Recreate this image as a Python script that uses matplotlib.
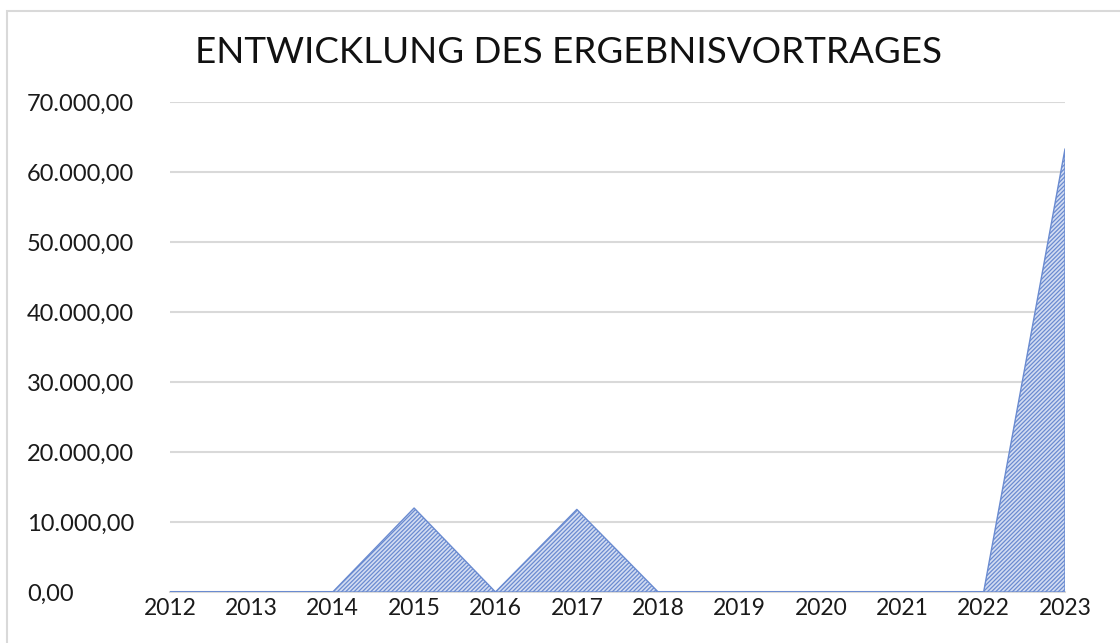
import matplotlib.pyplot as plt
from matplotlib.patches import Rectangle

# Daten
jahre = ['2012', '2013', '2014', '2015', '2016', '2017', '2018', '2019', '2020', '2021', '2022', '2023']
ergebnisvortrag = [0, 0, 0, 12000, 0, 11800, 0, 0, 0, 0, 0, 63300]
y_ticks = [0, 10000, 20000, 30000, 40000, 50000, 60000, 70000]

def de_format(v):
    s = '{:,.2f}'.format(v)
    return s.replace(',', 'X').replace('.', ',').replace('X', '.')

plt.rcParams['font.family'] = ['Lato', 'DejaVu Sans']
plt.rcParams['hatch.linewidth'] = 0.9
plt.rcParams['hatch.color'] = '#3d68c4'

fig = plt.figure(figsize=(11.2, 6.43), dpi=100)
ax = fig.add_axes([0.1518, 0.0793, 0.7991, 0.7621])

# Rahmen um das Diagramm (rechts/unten abgeschnitten)
fig.patches.append(Rectangle((7 / 1120, -0.05), 1.2, 1 - 11 / 643 + 0.05,
                             transform=fig.transFigure, fill=False,
                             edgecolor='#d9d9d9', linewidth=1.5))

x = list(range(len(jahre)))
ax.fill_between(x, ergebnisvortrag, 0, facecolor='#d3ddf2', edgecolor='#6a8bd0',
                hatch='////////', linewidth=1.0, zorder=3)

ax.set_xlim(0, len(jahre) - 1)
ax.set_ylim(0, 70000)
ax.set_yticks(y_ticks)
ax.set_yticklabels([de_format(v) for v in y_ticks])
ax.set_xticks(x)
ax.set_xticklabels(jahre)

ax.grid(axis='y', color='#d9d9d9', linewidth=1.5, zorder=0)
ax.set_axisbelow(True)
for s in ['top', 'right', 'left']:
    ax.spines[s].set_visible(False)
ax.spines['bottom'].set_color('#d9d9d9')
ax.spines['bottom'].set_linewidth(1.5)
ax.tick_params(axis='both', length=0, labelcolor='#1a1a1a')
ax.tick_params(axis='y', labelsize=17, pad=103)
ax.tick_params(axis='x', labelsize=16.5, pad=4)
for lab in ax.get_yticklabels():
    lab.set_horizontalalignment('left')

fig.text(0.508, 0.918, 'ENTWICKLUNG DES ERGEBNISVORTRAGES', ha='center', va='center',
         fontsize=26.5, color='#111111')

fig.savefig('out.png', dpi=100)
